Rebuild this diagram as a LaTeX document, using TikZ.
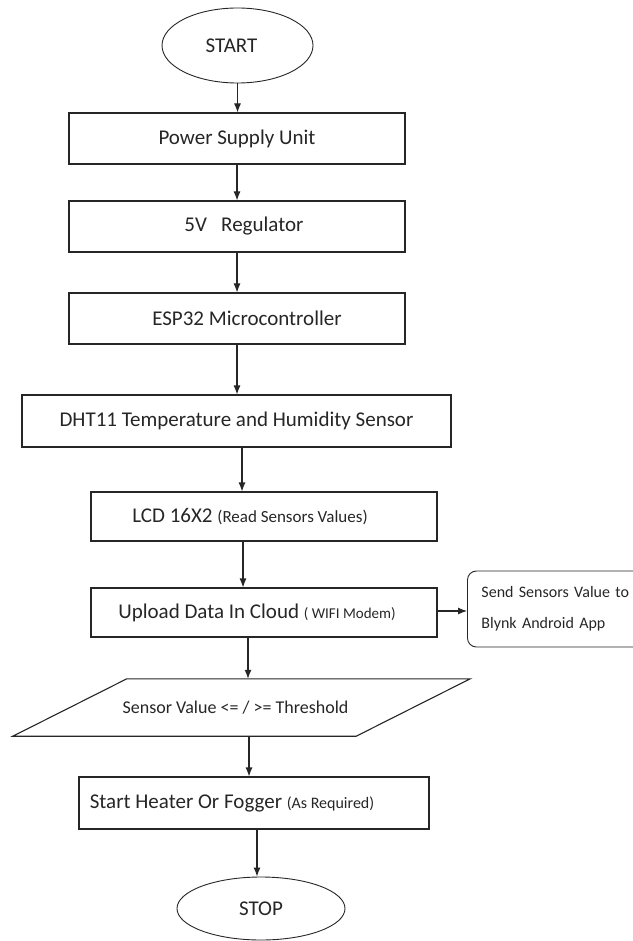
\documentclass[tikz,border=0pt]{standalone}
\usepackage{fontspec}
\setmainfont{Carlito}
\usetikzlibrary{shapes.geometric,arrows.meta}
\newcommand{\paren}[2][15]{{\fontsize{#1}{18}\selectfont #2}}
\newcommand{\nudge}[2]{\hspace*{#1}#2\hspace*{-#1}}
\begin{document}
\begin{tikzpicture}[x=1pt,y=-1pt,
    every node/.style={text=black!85, font=\fontsize{21}{25}\selectfont},
    box/.style={draw=black!85, line width=1.1pt, rectangle, minimum height=51, inner sep=0},
    term/.style={draw=black!85, line width=0.9pt, ellipse, inner sep=0},
    arr/.style={draw=black!85, line width=1.1pt, -{Latex[length=9,width=7]}}]
    \useasboundingbox (0,0) rectangle (632,941);
    % terminals
    \node[term, minimum width=151, minimum height=75] (start) at (237.5,45.5) {\nudge{-6pt}{START}};
    \node[term, minimum width=168, minimum height=63] (stop) at (261,908.5) {STOP};
    % process chain
    \node[box, minimum width=336] (psu) at (237,138.5) {Power Supply Unit};
    \node[box, minimum width=336] (reg) at (237,226.5) {\nudge{7pt}{5V~~~Regulator}};
    \node[box, minimum width=336] (esp) at (237,318.5) {\nudge{10pt}{ESP32 Microcontroller}};
    \node[box, minimum width=429, minimum height=52] (dht) at (236.5,421) {DHT11 Temperature and Humidity Sensor};
    \node[box, minimum width=346, minimum height=49] (lcd) at (264,516.5) {\nudge{-14pt}{LCD 16X2 \paren[17]{(Read Sensors Values)}}};
    \node[box, minimum width=346, minimum height=49] (upload) at (264,612.5) {\nudge{-7pt}{Upload Data In Cloud \paren{( WIFI Modem)}}};
    \node[draw=black!85, line width=0.9pt, rounded corners=9, anchor=west, minimum height=76,
          text width=152, inner xsep=14, align=left, font=\fontsize{16}{31}\selectfont] (blynk) at (467,609)
          {Send Sensors Value to\\Blynk Android App};
    % decision box (parallelogram drawn round the text node)
    \node[minimum width=343, minimum height=57, inner sep=0, font=\fontsize{18}{22}\selectfont] (check) at (241.5,707.5)
          {\nudge{-6pt}{Sensor Value <= / >= Threshold}};
    \draw[black!85, line width=1.1pt] ([xshift=57]check.north west) -- ([xshift=57]check.north east)
          -- ([xshift=-57]check.south east) -- ([xshift=-57]check.south west) -- cycle;
    \node[box, minimum width=350, minimum height=52] (heater) at (254,803) {\nudge{-22pt}{Start Heater Or Fogger \paren[16]{(As Required)}}};
    % connectors
    \draw[arr] (start.south) -- (start.south |- psu.north);
    \draw[arr] (psu) -- (reg);
    \draw[arr] (reg) -- (esp);
    \draw[arr] (esp.south) -- (esp.south |- dht.north);
    \draw[arr] ([xshift=5.5]dht.south) -- ([xshift=5.5]dht.south |- lcd.north);
    \draw[arr] ([xshift=-21]lcd.south) -- ([xshift=-21]lcd.south |- upload.north);
    \draw[arr] (upload.east |- blynk.west) ++(0,2) coordinate (side) -- (side -| blynk.west);
    \draw[arr] ([xshift=-16]upload.south) -- ([xshift=-16]upload.south |- check.north);
    \draw[arr] ([xshift=-5]heater.north |- check.south) -- ([xshift=-5]heater.north);
    \draw[arr] ([xshift=3]heater.south) -- ([xshift=3]heater.south |- stop.north);
\end{tikzpicture}
\end{document}
